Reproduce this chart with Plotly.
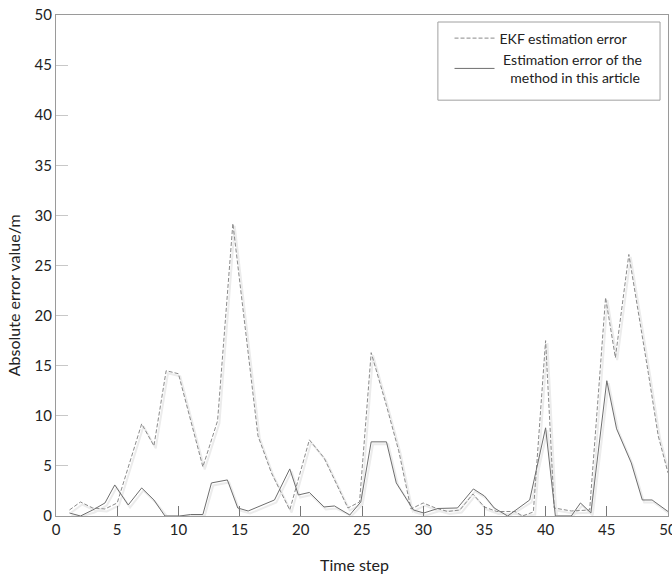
import plotly.graph_objects as go

# EKF estimation error (dashed)
ekf_t = [1.1, 2, 3, 4, 5, 7, 8, 9, 10, 12, 13.2, 14.45, 16.5, 17.6, 19.1, 20.7, 21.9,
         23.85, 24.8, 25.75, 27, 28, 29, 30, 31, 32, 33, 34.06, 35, 36, 37.5, 38.1, 39,
         40, 40.7, 42.1, 43.6, 44.9, 45.7, 46.8, 48.4, 49.2, 50]
ekf_err = [0.6, 1.4, 0.8, 0.7, 1.3, 9.2, 7.0, 14.5, 14.2, 4.9, 9.5, 29.2, 8.0, 4.3, 0.6, 7.6, 5.8,
           0.8, 1.4, 16.3, 11.0, 6.5, 0.7, 1.3, 0.8, 0.45, 0.6, 2.2, 0.9, 0.45, 0.45, 0.0, 0.4,
           17.5, 0.8, 0.5, 0.6, 21.8, 15.8, 26.1, 14.2, 8.0, 4.3]

# Estimation error of the proposed method (solid)
new_t = [1.1, 2, 3, 4, 4.8, 5.9, 7, 8, 8.9, 10.1, 11, 12, 12.7, 14, 14.85, 15.7, 17.85, 19.1,
         19.8, 20.7, 21.9, 22.75, 24, 24.9, 25.75, 27, 27.8, 29.2, 30.05, 31.2, 32.8, 34.1, 35,
         35.8, 36.9, 38.7, 40, 40.8, 42.1, 42.85, 43.7, 45, 45.8, 47, 47.9, 48.7, 50]
new_err = [0.3, 0.0, 0.6, 1.3, 3.1, 1.1, 2.8, 1.6, 0.0, 0.0, 0.15, 0.15, 3.3, 3.6, 0.8, 0.5, 1.6, 4.7,
           2.1, 2.35, 0.9, 1.0, 0.1, 1.4, 7.4, 7.4, 3.3, 0.6, 0.3, 0.75, 0.8, 2.7, 2.0,
           0.8, 0.0, 1.6, 8.8, 0.0, 0.0, 1.3, 0.3, 13.5, 8.7, 5.3, 1.6, 1.6, 0.45]

x_ticks = list(range(0, 51, 5))
y_ticks = list(range(0, 51, 5))

FONT = "Lato"
fig = go.Figure()

# faint shadow lines beneath each series
for t, v in ((ekf_t, ekf_err), (new_t, new_err)):
    fig.add_trace(go.Scatter(x=[a + 0.15 for a in t], y=[max(b - 0.25, 0) for b in v],
                             mode="lines", line=dict(color="#ececec", width=2),
                             showlegend=False, hoverinfo="skip"))

fig.add_trace(go.Scatter(x=ekf_t, y=ekf_err, mode="lines", name="EKF estimation error",
                         line=dict(color="#8a8a8a", width=1, dash="4px,2px")))
fig.add_trace(go.Scatter(x=new_t, y=new_err, mode="lines",
                         name="\u00a0Estimation error of the<br>\u00a0\u00a0\u00a0method in this article",
                         line=dict(color="#6e6e6e", width=1)))

fig.update_layout(
    width=672, height=575,
    margin=dict(l=56, r=4, t=15, b=59, autoexpand=False),
    paper_bgcolor="white", plot_bgcolor="white",
    font=dict(family=FONT, size=15, color="#222"),
    showlegend=True,
    legend=dict(x=0.643, y=0.985, xanchor="left", yanchor="top",
                bgcolor="rgba(0,0,0,0)", borderwidth=0,
                font=dict(family=FONT, size=14, color="#222"),
                tracegroupgap=0, itemwidth=40),
    shapes=[dict(type="rect", xref="paper", yref="paper", x0=0.624, x1=0.987, y0=0.83, y1=0.986,
                 line=dict(color="#a0a0a0", width=1), fillcolor="rgba(0,0,0,0)")],
    annotations=[
        dict(text="Absolute error value/m", textangle=-90, xref="paper", yref="paper",
             x=-0.07, y=0.441, xanchor="center", yanchor="middle", showarrow=False,
             font=dict(family=FONT, size=16, color="#222")),
        dict(text="Time step", xref="paper", yref="paper",
             x=0.487, y=-0.097, xanchor="center", yanchor="middle", showarrow=False,
             font=dict(family=FONT, size=16, color="#222")),
    ],
)
fig.update_xaxes(range=[0, 50], tickvals=x_ticks, ticks="inside", ticklen=10,
                 tickcolor="#777", showgrid=False, zeroline=False,
                 showline=True, linecolor="#9a9a9a", mirror=True,
                 ticklabeloverflow="allow", automargin=False,
                 tickfont=dict(family=FONT, size=15))
fig.update_yaxes(range=[0, 50], tickvals=y_ticks, ticks="inside", ticklen=12,
                 tickcolor="#c8c8c8", showgrid=False, zeroline=False,
                 showline=True, linecolor="#9a9a9a", mirror=True, automargin=False,
                 tickfont=dict(family=FONT, size=15))

fig.write_html("out.html")
